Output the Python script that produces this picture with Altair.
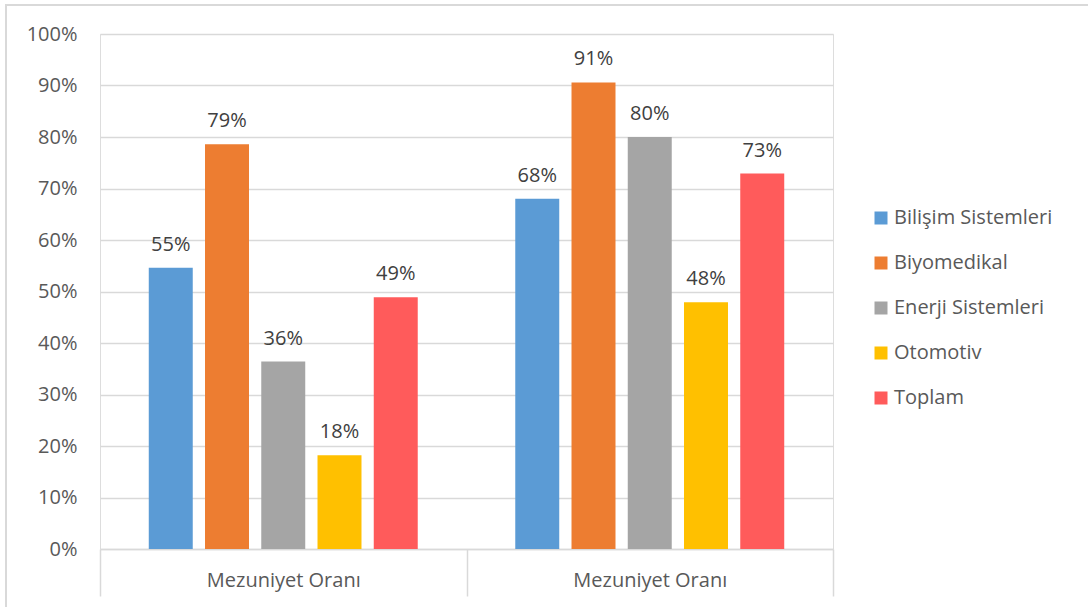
import altair as alt
import pandas as pd

# Graduation rates by programme, two cohorts
series = ["Bilişim Sistemleri", "Biyomedikal", "Enerji Sistemleri", "Otomotiv", "Toplam"]
colors = ["#5B9BD5", "#ED7D31", "#A5A5A5", "#FFC000", "#FF5B5B"]
groups = ["g1", "g2"]
group_label = "Mezuniyet Oranı"
rates_g1 = [54.6, 78.6, 36.4, 18.2, 48.9]
rates_g2 = [68.0, 90.6, 80.0, 47.9, 72.9]
y_ticks = list(range(0, 101, 10))

rows = []
for g, vals in zip(groups, [rates_g1, rates_g2]):
    for s, v in zip(series, vals):
        rows.append({"grp": g, "series": s, "rate": v})
df = pd.DataFrame(rows)

FONT = "Open Sans"
FS = 20
W, H = 733, 515

x_enc = alt.X(
    "grp:N",
    sort=groups,
    scale=alt.Scale(paddingInner=0, paddingOuter=0),
    axis=alt.Axis(
        title=None,
        labelExpr=f"indexof({groups}, datum.value) >= 0 ? '{group_label}' : ''",
        labelAngle=0,
        tickBand="extent",
        tickSize=47,
        tickColor="#d9d9d9",
        tickWidth=1.5,
        domainColor="#d9d9d9",
        domainWidth=1.5,
        labelPadding=-16,
        labelBaseline="middle",
        labelFontSize=FS,
        labelColor="#595959",
        labelFont=FONT,
        grid=False,
    ),
)
xoff = alt.XOffset(
    "series:N",
    sort=series,
    scale=alt.Scale(paddingInner=0.218, paddingOuter=0.867),
)
y_enc = alt.Y(
    "rate:Q",
    scale=alt.Scale(domain=[0, 100], nice=False),
    axis=alt.Axis(
        title=None,
        values=y_ticks,
        labelExpr="datum.value + '%'",
        domain=False,
        ticks=False,
        labelPadding=23,
        labelFontSize=FS,
        labelColor="#595959",
        labelFont=FONT,
        gridColor="#d9d9d9",
        gridWidth=1.5,
    ),
)

base = alt.Chart(df)

bars = base.mark_bar().encode(
    x=x_enc,
    xOffset=xoff,
    y=y_enc,
    color=alt.Color(
        "series:N",
        sort=series,
        scale=alt.Scale(domain=series, range=colors),
        legend=alt.Legend(
            title=None,
            orient="none",
            legendX=771,
            legendY=174,
            symbolType="square",
            symbolSize=169,
            symbolStrokeWidth=0,
            labelFontSize=FS,
            labelFont=FONT,
            labelColor="#595959",
            labelOffset=3,
            rowPadding=25,
        ),
    ),
)

labels = base.transform_calculate(
    label="format(datum.rate, '.0f') + '%'"
).mark_text(
    baseline="alphabetic", dy=-17, fontSize=FS, font=FONT, color="#404040"
).encode(
    x=alt.X("grp:N", sort=groups),
    xOffset=alt.XOffset("series:N", sort=series),
    y="rate:Q",
    text="label:N",
)

# light outer frame around the whole chart
frame = alt.Chart(alt.Data(values=[{}])).mark_rect(
    fillOpacity=0, stroke="#d9d9d9", strokeWidth=2
).encode(
    x=alt.value(-94), x2=alt.value(1010),
    y=alt.value(-29), y2=alt.value(600),
)

chart = alt.layer(bars, labels, frame).properties(
    width=W,
    height=H,
    autosize=alt.AutoSizeParams(type="none"),
    padding={"left": 100, "top": 34, "right": 255, "bottom": 58},
).configure_view(stroke=None).configure(font=FONT)

chart.save("out.html", embed_options={"renderer": "svg", "actions": False})
